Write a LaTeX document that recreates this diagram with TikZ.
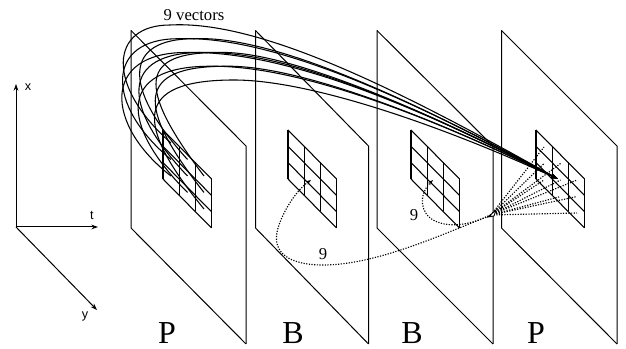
\documentclass[tikz,border=0pt]{standalone}
\usepackage{fontspec}
\setmainfont{Liberation Serif}
\setsansfont{Liberation Sans}
\usetikzlibrary{arrows.meta,calc}
\tikzset{
  plane/.style={line width=0.75pt,line join=miter},
  gridline/.style={line width=0.8pt},
  vec/.style={line width=0.8pt,-{Stealth[length=5pt,width=3pt]}},
  dots/.style={line width=0.85pt,dash pattern=on 0.9pt off 1.1pt},
  dotsarrow/.style={dots,-{Stealth[length=4pt,width=3pt]}},
  axisline/.style={line width=0.75pt,-{Stealth[length=5pt,width=3.5pt]}},
  biglabel/.style={font=\fontsize{24}{24}\selectfont,inner sep=0pt},
  smalllabel/.style={font=\fontsize{12.5}{13}\selectfont,inner sep=0pt},
  axislabel/.style={font=\sffamily\fontsize{9.5}{10}\selectfont,inner sep=0pt}
}
\begin{document}
\begin{tikzpicture}[x=0.75pt,y=-0.75pt]
\useasboundingbox (0,0) rectangle (626,349);
% planes
\foreach \xa/\xb in {131/246,255.5/368.5,377/493,501.5/617}{
  \draw[plane] (\xa,30.5) -- (\xb,146) -- (\xb,344);
  \draw[plane] (\xa,30.5) -- (\xa,228) -- (\xb,344);
}
% grids
\foreach \gx in {163,288,411,536}{
  \foreach \k in {0,1,2,3}{
    \draw[gridline] (\gx+16.25*\k,130+16.25*\k) -- ++(0,49);
    \draw[gridline] (\gx,130+16.33*\k) -- ++(48.5,49);
  }
}
% axes
\coordinate (o) at (16,227);
\coordinate (xe) at (16,84);
\coordinate (te) at (98,227);
\coordinate (ye) at (97,310);
\draw[axisline] (o) -- (xe);
\draw[axisline] (o) -- (te);
\draw[axisline] (o) -- (ye);
\node[axislabel] (xl) at (28,87) {x};
\node[axislabel] (tl) at (92,215) {t};
\node[axislabel] (yl) at (85,316) {y};
% nine motion vectors
\coordinate (E) at (558,179);
\foreach \i in {0,1,2}{
  \foreach \j in {0,1,2}{
    \pgfmathsetmacro{\s}{\i+\j}
    \draw[vec] (171+16.5*\i,143+16.5*\i+16.5*\j)
      .. controls (105+15*\i,85+20*\j) and (110+15.5*\i-4.5*\j,25+13.75*\s)
      .. (170+24*\i+8*\j,25+13.75*\s)
      .. controls (260+12.5*\s,20+15*\s) and (400+10*\s,90+8.75*\s)
      .. (E);
  }
}
% dotted vectors
\coordinate (H) at (491,215);
\foreach \i in {0,1,2}{
  \foreach \j in {0,1,2}{
    \draw[dots] (H) -- (544+16.5*\i,147+16.5*\i+16.5*\j);
  }
}
\draw[line width=0.7pt,fill=white] (488,217) -- (496,210) -- (494,216) -- cycle;
\coordinate (a3) at (433,180);
\coordinate (a2) at (311,180);
\draw[dotsarrow] (H) .. controls (470,225) and (450,228) .. (435,221)
  .. controls (420,214) and (418,195) .. (a3);
\draw[dotsarrow] (H) .. controls (430,240) and (370,266) .. (320,265)
  .. controls (285,264) and (270,250) .. (279,225)
  .. controls (285,208) and (297,190) .. (a2);
% labels
\node[smalllabel] (nv) at (194,15) {9 vectors};
\node[smalllabel] (n3) at (414,215) {9};
\node[smalllabel] (n2) at (323,254) {9};
\node[biglabel] (p1) at (167,333) {P};
\node[biglabel] (b1) at (293,333) {B};
\node[biglabel] (b2) at (412,333) {B};
\node[biglabel] (p2) at (536,333) {P};
\end{tikzpicture}
\end{document}
